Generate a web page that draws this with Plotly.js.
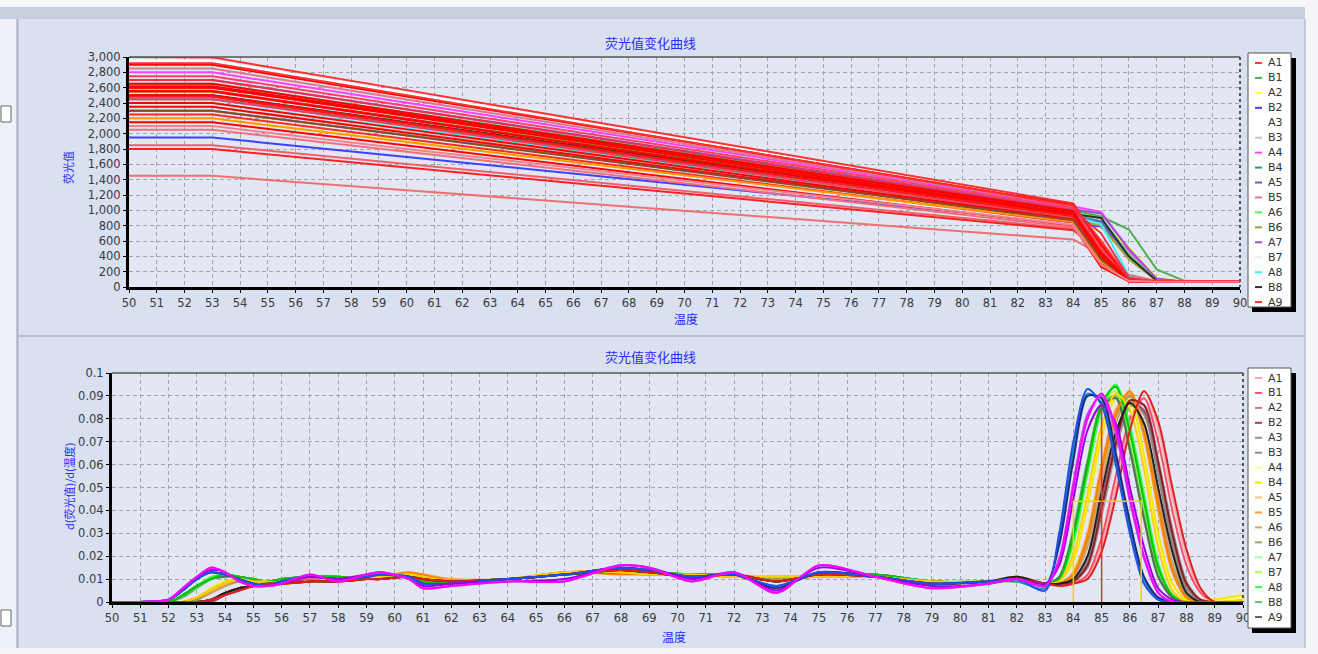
<!DOCTYPE html>
<html>
<head>
<meta charset="utf-8">
<script src="https://cdn.plot.ly/plotly-3.0.1.min.js"></script>
<style>html,body{margin:0;padding:0;background:#d9e0ef;}#chart{width:1318px;height:654px;}</style>
</head>
<body>
<div id="chart"></div>
<script>
// ---------------- DATA ----------------
const chartTitle = '荧光值变化曲线';
const xTitle = '温度';
const yTitleTop = '荧光值';
const yTitleBottom = 'd(荧光值)/d(温度)';
const legendNames = ['A1','B1','A2','B2','A3','B3','A4','B4','A5','B5','A6','B6','A7','B7','A8','B8','A9'];

// Top: fluorescence vs temperature
const topX = [50,53,60,67,74,80,84,85,86,87,88,90];
const topLegendColors = ['#ff3a3a','#4fae4f','#ffff40','#4040ff','#ffffff','#c4c4c4','#ff40ff','#2f9090','#6060c8','#e07888','#50f050','#a0a040','#a050d0','#ececec','#40f0f0','#303030','#ff3030'];
const topLegendValues = [
  [2600,2600,2236,1872,1510,1198,990,600,130,75,70,70],
  [2650,2650,2277,1904,1533,1213,1000,920,750,230,80,70],
  [2200,2200,1897,1594,1293,1033,860,830,520,120,70,70],
  [1950,1950,1697,1444,1192,974,830,790,460,100,70,70],
  [2950,2950,2527,2105,1684,1321,1080,500,90,70,70,70],
  [2350,2350,2022,1695,1368,1087,900,860,440,90,70,70],
  [2800,2800,2404,2009,1615,1276,1050,980,480,100,70,70],
  [2450,2450,2106,1763,1421,1126,930,860,400,85,70,70],
  [2300,2300,1981,1663,1345,1072,890,850,400,80,70,70],
  [2850,2850,2445,2041,1638,1291,1060,450,90,70,70,70],
  [2550,2550,2193,1836,1480,1174,970,900,420,95,70,70],
  [2300,2300,1979,1658,1339,1063,880,800,360,80,70,70],
  [2700,2700,2320,1941,1563,1237,1020,960,500,110,70,70],
  [2100,2100,1811,1521,1233,985,820,600,150,70,70,70],
  [2400,2400,2066,1731,1398,1111,920,820,150,75,70,70],
  [2500,2500,2150,1799,1451,1150,950,900,400,80,70,70],
  [3000,2995,2568,2137,1707,1336,1090,520,100,70,70,70]
];
const topOtherColors = ['#f07070','#f06070','#ff2020','#ff0000','#ff4060','#ff0000','#ff1010','#ff0000','#f04060','#ff0000','#ff2a2a','#ff0000','#f07080','#ff0000','#ff3030','#ff0000','#e83050','#ff0000','#ff1818','#ff9900','#8b4a2a','#ff0000','#f48090'];
const topOtherValues = [
  [1450,1450,1262,1075,888,727,620,420,160,80,70,70],
  [1850,1850,1604,1357,1112,901,760,480,120,70,70,70],
  [1800,1800,1560,1321,1082,877,740,450,110,70,70,70],
  [2900,2900,2486,2073,1661,1306,1070,560,100,70,70,70],
  [2750,2750,2361,1973,1586,1252,1030,480,90,70,70,70],
  [2600,2600,2229,1859,1490,1172,960,420,85,70,70,70],
  [2560,2560,2194,1828,1463,1149,940,380,80,70,70,70],
  [2500,2500,2143,1786,1430,1124,920,350,80,70,70,70],
  [2450,2450,2100,1749,1401,1100,900,330,75,70,70,70],
  [2400,2400,2056,1713,1371,1076,880,300,75,70,70,70],
  [2250,2250,1931,1613,1295,1022,840,280,75,70,70,70],
  [2150,2150,1845,1540,1236,974,800,260,75,70,70,70],
  [2050,2050,1763,1476,1190,944,780,300,80,70,70,70],
  [2650,2650,2273,1895,1519,1195,980,450,90,70,70,70],
  [2920,2920,2500,2079,1661,1300,1060,600,110,70,70,70],
  [2350,2350,2013,1677,1341,1052,860,320,80,70,70,70],
  [2700,2700,2316,1932,1549,1219,1000,700,120,70,70,70],
  [2620,2620,2251,1883,1516,1196,990,380,85,70,70,70],
  [2480,2480,2130,1779,1431,1130,930,400,80,70,70,70],
  [2200,2200,1890,1585,1285,1025,850,330,80,70,70,70],
  [2300,2300,1975,1652,1333,1058,870,360,80,70,70,70],
  [2550,2550,2180,1820,1460,1150,950,400,80,70,70,70],
  [2100,2100,1800,1510,1220,975,810,290,80,70,70,70]
];

// Bottom: derivative curves
const botX = [50,51,52,52.5,53,53.5,54,54.5,55,55.5, 56,57,58,59,59.5,60.5,61,62,64,66, 68,69,70.5,72,73.5,75,77,79,81,82, 83,83.5,84,84.5,85,85.5,86,86.5,87,87.5, 88,88.5,89,90];
const botLegendColors = ['#ffa8b0','#ff5068','#c07898','#a83858','#a88898','#8c8c8c','#ffff88','#f5e600','#ffc080','#ff9a30','#d0a070','#a0a050','#a0ffa8','#a8ff40','#30ff40','#60c060','#507050'];
const botLegendValues = [
  [0,0,0,0,0,0.001,0.004,0.006,0.007,0.008, 0.008,0.009,0.009,0.010,0.010,0.011,0.010,0.009,0.010,0.012, 0.014,0.013,0.011,0.012,0.009,0.012,0.011,0.008,0.009,0.011, 0.008,0.007,0.008,0.011,0.025,0.050,0.078,0.092,0.076,0.046, 0.020,0.005,0,0],
  [0,0,0,0,0,0.001,0.003,0.005,0.007,0.008, 0.008,0.010,0.009,0.010,0.011,0.011,0.010,0.009,0.010,0.012, 0.013,0.013,0.011,0.012,0.010,0.012,0.011,0.008,0.009,0.010, 0.008,0.008,0.008,0.012,0.028,0.055,0.080,0.089,0.070,0.040, 0.016,0.004,0,0],
  [0,0,0,0,0,0.001,0.004,0.006,0.007,0.008, 0.008,0.009,0.010,0.010,0.010,0.011,0.010,0.009,0.010,0.012, 0.014,0.013,0.011,0.012,0.009,0.012,0.011,0.008,0.009,0.009, 0.008,0.008,0.009,0.016,0.040,0.068,0.086,0.084,0.060,0.030, 0.008,0.001,0,0],
  [0,0,0,0,0,0,0.003,0.005,0.007,0.008, 0.009,0.009,0.009,0.010,0.011,0.011,0.010,0.009,0.010,0.012, 0.014,0.013,0.012,0.012,0.009,0.012,0.011,0.009,0.009,0.011, 0.008,0.008,0.009,0.018,0.044,0.071,0.088,0.083,0.056,0.026, 0.006,0.001,0,0],
  [0,0,0,0,0,0.001,0.004,0.006,0.007,0.008, 0.008,0.009,0.009,0.010,0.010,0.011,0.010,0.009,0.010,0.012, 0.013,0.013,0.011,0.012,0.009,0.012,0.011,0.008,0.009,0.010, 0.008,0.008,0.009,0.015,0.038,0.066,0.085,0.086,0.062,0.032, 0.009,0.001,0,0],
  [0,0,0,0,0.001,0.004,0.007,0.009,0.009,0.009, 0.008,0.009,0.009,0.010,0.011,0.012,0.011,0.009,0.010,0.013, 0.013,0.012,0.012,0.011,0.010,0.011,0.011,0.009,0.009,0.010, 0.008,0.008,0.010,0.018,0.042,0.070,0.087,0.082,0.056,0.026, 0.006,0,0,0],
  [0,0,0,0,0.002,0.005,0.008,0.010,0.009,0.009, 0.008,0.009,0.009,0.010,0.011,0.012,0.011,0.009,0.010,0.013, 0.013,0.012,0.012,0.011,0.011,0.011,0.011,0.009,0.009,0.011, 0.008,0.009,0.020,0.045,0.075,0.090,0.085,0.060,0.026,0.006, 0,0,0.001,0.002],
  [0,0,0,0,0.002,0.006,0.009,0.010,0.009,0.009, 0.008,0.009,0.010,0.010,0.011,0.012,0.011,0.009,0.010,0.013, 0.013,0.012,0.012,0.011,0.010,0.011,0.011,0.009,0.009,0.010, 0.008,0.009,0.018,0.042,0.072,0.089,0.088,0.064,0.030,0.008, 0.001,0,0.001,0.003],
  [0,0,0,0,0.001,0.004,0.007,0.009,0.009,0.009, 0.008,0.009,0.009,0.010,0.011,0.012,0.011,0.009,0.010,0.013, 0.013,0.012,0.012,0.011,0.011,0.011,0.011,0.009,0.009,0.009, 0.008,0.008,0.012,0.026,0.055,0.080,0.092,0.076,0.046,0.016, 0.003,0,0,0],
  [0,0,0,0,0.002,0.005,0.008,0.010,0.009,0.009, 0.008,0.009,0.009,0.010,0.011,0.012,0.012,0.010,0.010,0.013, 0.013,0.012,0.012,0.011,0.010,0.011,0.011,0.009,0.009,0.010, 0.008,0.008,0.013,0.030,0.060,0.084,0.091,0.072,0.040,0.013, 0.002,0,0,0],
  [0,0,0,0,0.001,0.004,0.007,0.009,0.009,0.009, 0.008,0.009,0.009,0.010,0.010,0.012,0.011,0.009,0.010,0.012, 0.013,0.012,0.012,0.011,0.011,0.011,0.011,0.009,0.009,0.011, 0.008,0.008,0.011,0.024,0.052,0.078,0.090,0.078,0.048,0.018, 0.004,0,0,0],
  [0,0,0,0,0.001,0.005,0.008,0.009,0.009,0.009, 0.008,0.009,0.009,0.010,0.011,0.011,0.011,0.009,0.010,0.013, 0.013,0.012,0.012,0.011,0.010,0.011,0.011,0.009,0.009,0.010, 0.008,0.008,0.012,0.027,0.057,0.081,0.090,0.074,0.044,0.015, 0.003,0,0,0],
  [0,0,0,0.003,0.007,0.010,0.012,0.011,0.010,0.009, 0.010,0.011,0.011,0.010,0.011,0.011,0.009,0.009,0.010,0.012, 0.013,0.013,0.012,0.012,0.009,0.012,0.012,0.009,0.009,0.010, 0.008,0.010,0.028,0.058,0.085,0.094,0.075,0.045,0.016,0.003, 0,0,0,0],
  [0,0,0,0.003,0.006,0.010,0.012,0.011,0.010,0.009, 0.010,0.011,0.011,0.010,0.011,0.011,0.009,0.009,0.010,0.012, 0.013,0.013,0.012,0.012,0.009,0.012,0.012,0.009,0.009,0.011, 0.008,0.010,0.030,0.060,0.086,0.092,0.072,0.042,0.014,0.003, 0,0,0,0],
  [0,0,0,0.003,0.007,0.011,0.012,0.011,0.010,0.009, 0.010,0.011,0.011,0.010,0.011,0.011,0.009,0.009,0.010,0.012, 0.013,0.013,0.012,0.012,0.009,0.012,0.012,0.009,0.009,0.009, 0.008,0.010,0.026,0.056,0.084,0.095,0.077,0.047,0.017,0.003, 0,0,0,0],
  [0,0,0,0.002,0.006,0.010,0.012,0.011,0.010,0.009, 0.010,0.011,0.011,0.010,0.011,0.011,0.009,0.009,0.010,0.012, 0.013,0.013,0.012,0.012,0.009,0.012,0.012,0.009,0.009,0.010, 0.008,0.011,0.032,0.062,0.086,0.090,0.068,0.038,0.012,0.002, 0,0,0,0],
  [0,0,0,0.003,0.007,0.010,0.011,0.011,0.010,0.009, 0.010,0.011,0.011,0.010,0.011,0.011,0.009,0.009,0.010,0.012, 0.013,0.013,0.012,0.012,0.009,0.012,0.012,0.009,0.009,0.011, 0.008,0.011,0.030,0.060,0.085,0.089,0.066,0.036,0.011,0.002, 0,0,0,0]
];
const botOtherColors = ['#ff8000','#00c800','#ffd000','#8b2020','#202020','#e02020','#1890b0','#202a80','#2050e8','#9a00e0','#c040ff','#ff00ff'];
const botOtherValues = [
  [0,0,0,0,0.002,0.005,0.008,0.010,0.009,0.009, 0.008,0.009,0.009,0.010,0.011,0.013,0.012,0.009,0.010,0.013, 0.012,0.012,0.012,0.011,0.011,0.011,0.011,0.009,0.009,0.010, 0.008,0.008,0.012,0.028,0.058,0.082,0.092,0.074,0.043,0.014, 0.002,0,0,0],
  [0,0,0,0.003,0.007,0.010,0.012,0.011,0.010,0.009, 0.010,0.011,0.011,0.010,0.011,0.011,0.009,0.009,0.010,0.012, 0.013,0.013,0.012,0.012,0.009,0.012,0.012,0.009,0.009,0.010, 0.008,0.010,0.029,0.059,0.087,0.094,0.074,0.044,0.015,0.003, 0,0,0,0],
  [0,0,0,0,0.002,0.005,0.008,0.010,0.009,0.009, 0.008,0.009,0.009,0.010,0.011,0.012,0.011,0.009,0.010,0.013, 0.013,0.012,0.012,0.011,0.011,0.011,0.011,0.009,0.009,0.011, 0.008,0.009,0.021,0.047,0.077,0.091,0.084,0.058,0.024,0.005, 0,0,0,0.001],
  [0,0,0,0,0,0.001,0.004,0.006,0.007,0.008, 0.008,0.009,0.009,0.010,0.010,0.011,0.010,0.009,0.010,0.012, 0.014,0.013,0.011,0.012,0.009,0.012,0.011,0.008,0.009,0.010, 0.008,0.008,0.009,0.016,0.041,0.069,0.088,0.086,0.061,0.030, 0.008,0.001,0,0],
  [0,0,0,0,0,0.001,0.004,0.006,0.007,0.008, 0.008,0.009,0.009,0.010,0.010,0.011,0.010,0.009,0.010,0.012, 0.014,0.013,0.011,0.012,0.009,0.012,0.011,0.008,0.009,0.011, 0.008,0.008,0.010,0.020,0.048,0.074,0.087,0.078,0.050,0.022, 0.004,0,0,0],
  [0,0,0,0,0,0.001,0.003,0.005,0.007,0.008, 0.008,0.009,0.009,0.010,0.010,0.011,0.010,0.009,0.010,0.012, 0.014,0.013,0.011,0.012,0.009,0.012,0.011,0.008,0.009,0.010, 0.008,0.007,0.008,0.010,0.022,0.046,0.075,0.092,0.079,0.050, 0.023,0.006,0,0],
  [0,0,0.001,0.005,0.010,0.013,0.012,0.010,0.008,0.007, 0.009,0.011,0.010,0.011,0.012,0.011,0.008,0.008,0.010,0.012, 0.015,0.014,0.011,0.012,0.007,0.013,0.011,0.008,0.009,0.009, 0.006,0.028,0.066,0.091,0.087,0.062,0.032,0.010,0.001,0, 0,0,0,0],
  [0,0,0.001,0.005,0.010,0.013,0.012,0.010,0.008,0.007, 0.009,0.011,0.010,0.011,0.012,0.011,0.008,0.008,0.010,0.012, 0.015,0.014,0.011,0.012,0.006,0.013,0.011,0.008,0.009,0.010, 0.007,0.025,0.062,0.090,0.089,0.065,0.035,0.011,0.002,0, 0,0,0,0],
  [0,0,0.001,0.005,0.010,0.013,0.012,0.010,0.008,0.007, 0.009,0.011,0.010,0.011,0.012,0.011,0.008,0.008,0.010,0.012, 0.015,0.014,0.011,0.012,0.007,0.013,0.011,0.008,0.009,0.010, 0.005,0.030,0.070,0.093,0.086,0.060,0.030,0.008,0.001,0, 0,0,0,0],
  [0,0,0.001,0.006,0.011,0.014,0.013,0.009,0.007,0.007, 0.008,0.011,0.010,0.012,0.013,0.010,0.007,0.008,0.009,0.010, 0.016,0.015,0.010,0.013,0.005,0.015,0.011,0.007,0.008,0.010, 0.008,0.016,0.045,0.075,0.086,0.078,0.050,0.024,0.006,0.001, 0,0,0,0],
  [0,0,0.001,0.006,0.011,0.015,0.013,0.009,0.007,0.007, 0.008,0.012,0.009,0.012,0.013,0.010,0.006,0.007,0.009,0.009, 0.016,0.015,0.009,0.013,0.004,0.016,0.011,0.006,0.008,0.010, 0.007,0.019,0.052,0.082,0.090,0.074,0.044,0.019,0.004,0, 0,0,0,0],
  [0,0,0.001,0.006,0.011,0.015,0.013,0.009,0.007,0.007, 0.008,0.012,0.009,0.012,0.013,0.010,0.006,0.007,0.009,0.009, 0.016,0.015,0.009,0.013,0.004,0.016,0.011,0.006,0.008,0.010, 0.007,0.018,0.050,0.080,0.091,0.076,0.046,0.020,0.004,0, 0,0,0,0]
];
// Melting-temperature markers on the derivative chart
const tmLineX = [85, 85];
const tmLineY = [0, 0.0856];
const halfWidthX = [84.0, 84.0, 86.4, 86.4];
const halfWidthY = [0, 0.044, 0.044, 0];

// ---------------- BUILD ----------------
const W = 1318, H = 654;
const px = v => v / W;
const py = v => 1 - v / H;

const traces = [];
topLegendValues.forEach((vals, i) => traces.push({x: topX, y: vals, xaxis: 'x', yaxis: 'y', mode: 'lines', line: {color: topLegendColors[i], width: 2}, name: legendNames[i], hoverinfo: 'skip'}));
topOtherValues.forEach((vals, i) => traces.push({x: topX, y: vals, xaxis: 'x', yaxis: 'y', mode: 'lines', line: {color: topOtherColors[i], width: 2}, hoverinfo: 'skip'}));
botLegendValues.forEach((vals, i) => traces.push({x: botX, y: vals, xaxis: 'x2', yaxis: 'y2', mode: 'lines', line: {color: botLegendColors[i], width: 2, shape: 'spline', smoothing: 0.8}, name: legendNames[i], hoverinfo: 'skip'}));
botOtherValues.forEach((vals, i) => traces.push({x: botX, y: vals, xaxis: 'x2', yaxis: 'y2', mode: 'lines', line: {color: botOtherColors[i], width: 2, shape: 'spline', smoothing: 0.8}, hoverinfo: 'skip'}));
traces.push({x: halfWidthX, y: halfWidthY, xaxis: 'x2', yaxis: 'y2', mode: 'lines', line: {color: '#e8d800', width: 1.5}, hoverinfo: 'skip'});
traces.push({x: tmLineX, y: tmLineY, xaxis: 'x2', yaxis: 'y2', mode: 'lines', line: {color: '#e03030', width: 1.5}, hoverinfo: 'skip'});

const tickFont = {family: 'DejaVu Sans, Verdana, sans-serif', size: 11.5, color: '#3a3a3a'};
const baseAxis = {
  showgrid: true, gridcolor: '#a4a4a4', griddash: '4px,3px', gridwidth: 1,
  showline: true, linecolor: '#000', linewidth: 3,
  ticks: 'outside', ticklen: 3, tickcolor: '#000', tickwidth: 1,
  zeroline: false, tickfont: tickFont, fixedrange: true
};

const shapes = [];
function rect(x0, y0, x1, y1, fill, line, layer) {
  shapes.push({type: 'rect', xref: 'paper', yref: 'paper', x0: px(x0), x1: px(x1), y0: py(y1), y1: py(y0),
    fillcolor: fill, line: line || {width: 0}, layer: layer || 'below'});
}
function seg(x0, y0, x1, y1, color, width, dash, layer) {
  shapes.push({type: 'line', xref: 'paper', yref: 'paper', x0: px(x0), x1: px(x1), y0: py(y0), y1: py(y1),
    line: {color: color, width: width, dash: dash || 'solid'}, layer: layer || 'above'});
}
// window decorations
rect(0, 0, W, 7, '#f7f8fb');
rect(0, 7, W, 19, '#c6cee0');
rect(0, 19, 16, H, '#eef1f7');
seg(17.5, 19, 17.5, H, '#aab2c2', 2, 'solid', 'below');
rect(1, 106, 11, 122, '#ffffff', {color: '#666', width: 1});
rect(1, 610, 11, 626, '#ffffff', {color: '#666', width: 1});
seg(18, 336, 1305, 336, '#b4bccb', 2, 'solid', 'below');
rect(1305, 0, W, H, '#f4f5f8');
seg(1305, 19, 1305, H, '#b8bfcd', 1.5, 'solid', 'below');
rect(0, 648, W, H, '#f4f5f8');
// plot frame (top / right)
seg(129, 57, 1240, 57, '#555', 1.5);
seg(1240, 57, 1240, 287, '#555', 2, 'dot');
seg(112, 373, 1243, 373, '#555', 1.5);
seg(1243, 373, 1243, 602, '#555', 2, 'dot');

// custom legends
const annotations = [];
function legendBox(top, bottom, colors) {
  rect(1252, top + 5, 1296, bottom + 5, '#000', null, 'above');
  rect(1248, top, 1291, bottom, '#ffffff', {color: '#555', width: 1}, 'above');
  legendNames.forEach((n, i) => {
    const y = top + 10 + i * 14.94;
    seg(1255, y, 1262, y, colors[i], 2, 'solid', 'above');
    annotations.push({xref: 'paper', yref: 'paper', x: px(1266), y: py(y), xanchor: 'left', yanchor: 'middle',
      text: n, showarrow: false, font: {family: 'DejaVu Sans, Verdana, sans-serif', size: 11, color: '#333'}});
  });
}
legendBox(53, 307, topLegendColors);
legendBox(368, 628, botLegendColors);

const cjk = 'Noto Sans CJK SC, sans-serif';
const blue = '#2a2aff';
[[42, chartTitle, 650], [356, chartTitle, 650]].forEach(([y, t, x]) => annotations.push({xref: 'paper', yref: 'paper', x: px(x), y: py(y), xanchor: 'center', yanchor: 'middle', text: t, showarrow: false, font: {family: cjk, size: 13, color: blue}}));
annotations.push({xref: 'paper', yref: 'paper', x: px(686), y: py(319), xanchor: 'center', yanchor: 'middle', text: xTitle, showarrow: false, font: {family: cjk, size: 12, color: blue}});
annotations.push({xref: 'paper', yref: 'paper', x: px(674), y: py(636), xanchor: 'center', yanchor: 'middle', text: xTitle, showarrow: false, font: {family: cjk, size: 12, color: blue}});
annotations.push({xref: 'paper', yref: 'paper', x: px(68), y: py(168), xanchor: 'center', yanchor: 'middle', text: yTitleTop, textangle: -90, showarrow: false, font: {family: cjk, size: 11, color: blue}});
annotations.push({xref: 'paper', yref: 'paper', x: px(69), y: py(487), xanchor: 'center', yanchor: 'middle', text: yTitleBottom, textangle: -90, showarrow: false, font: {family: cjk, size: 11, color: blue}});

const layout = {
  width: W, height: H, margin: {l: 0, r: 0, t: 0, b: 0},
  paper_bgcolor: '#d9e0ef', plot_bgcolor: '#e2e7f3', showlegend: false,
  xaxis: Object.assign({}, baseAxis, {domain: [px(129), px(1240)], range: [50, 90], tick0: 50, dtick: 1, anchor: 'y'}),
  yaxis: Object.assign({}, baseAxis, {domain: [py(287), py(57)], range: [0, 3000], dtick: 200, tickformat: ',d', anchor: 'x'}),
  xaxis2: Object.assign({}, baseAxis, {domain: [px(112), px(1243)], range: [50, 90], tick0: 50, dtick: 1, anchor: 'y2'}),
  yaxis2: Object.assign({}, baseAxis, {domain: [py(602), py(373)], range: [0, 0.1], dtick: 0.01, anchor: 'x2'}),
  shapes: shapes, annotations: annotations
};

Plotly.newPlot('chart', traces, layout, {displayModeBar: false, staticPlot: true});
</script>
</body>
</html>
